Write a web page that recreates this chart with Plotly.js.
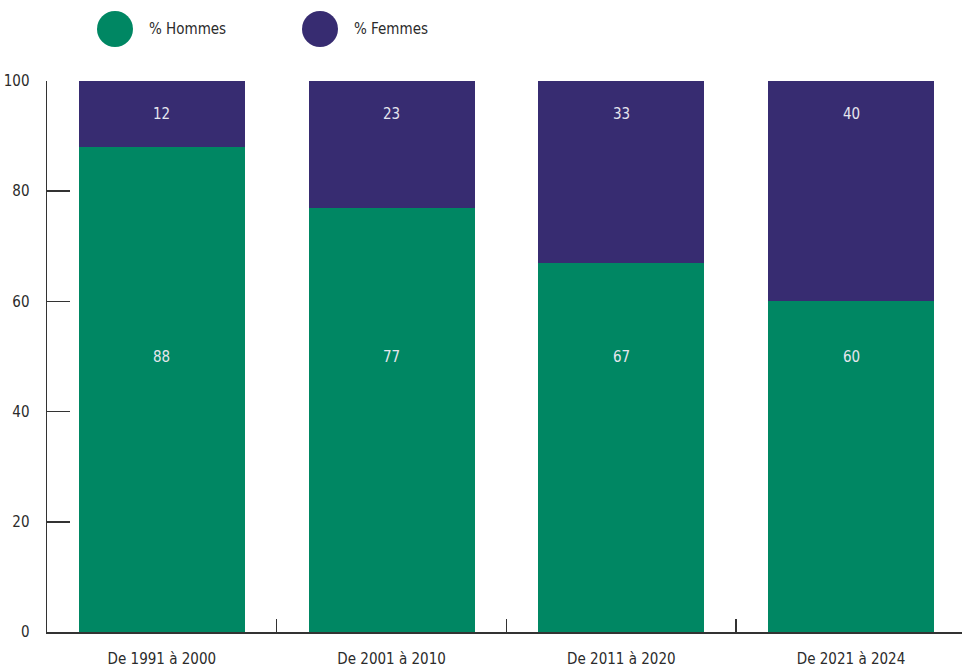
<!DOCTYPE html>
<html>
<head>
<meta charset="utf-8">
<script src="https://cdn.plot.ly/plotly-3.0.1.min.js"></script>
<style>html,body{margin:0;padding:0;background:#fff;}</style>
</head>
<body>
<div id="chart" style="width:962px;height:670px;"></div>
<script>
const categories = ["De 1991 à 2000", "De 2001 à 2010", "De 2011 à 2020", "De 2021 à 2024"];
const hommes = [88, 77, 67, 60];
const femmes = [12, 23, 33, 40];
const seriesNames = ["% Hommes", "% Femmes"];
const colors = ["#008763", "#372C71"];
const yTicks = [0, 20, 40, 60, 80, 100];
const labelY = [50, 94]; // vertical position of value labels (data units)

const FONT = "'Liberation Sans Narrow', 'DejaVu Sans Condensed', 'Arial Narrow', sans-serif";
const W = 962, H = 670, mL = 47, mR = 0, mT = 81, mB = 38;
const pw = W - mL - mR, ph = H - mT - mB;
const px2x = p => (p - mL) / pw;
const px2y = p => (H - mB - p) / ph;

const traces = [
  {type: "bar", x: categories, y: hommes, name: seriesNames[0], marker: {color: colors[0]}, hoverinfo: "none"},
  {type: "bar", x: categories, y: femmes, name: seriesNames[1], marker: {color: colors[1]}, hoverinfo: "none"}
];

const annotations = [];
categories.forEach((c, i) => {
  annotations.push({x: c, y: labelY[0], xref: "x", yref: "y", text: String(hommes[i]), showarrow: false,
    font: {family: FONT, size: 15, color: "#e6e6ee"}});
  annotations.push({x: c, y: labelY[1], xref: "x", yref: "y", text: String(femmes[i]), showarrow: false,
    font: {family: FONT, size: 15, color: "#e6e6ee"}});
});

// legend
const legendPos = [[115, 147], [320, 352]];
const shapes = [];
seriesNames.forEach((n, i) => {
  shapes.push({type: "circle", xref: "paper", yref: "paper", xsizemode: "pixel", ysizemode: "pixel",
    xanchor: px2x(legendPos[i][0]), yanchor: px2y(29), x0: -18, x1: 18, y0: -18, y1: 18,
    fillcolor: colors[i], line: {width: 0}});
  annotations.push({xref: "paper", yref: "paper", x: px2x(legendPos[i][1]), y: px2y(29), xanchor: "left", yanchor: "middle",
    text: n, showarrow: false, font: {family: FONT, size: 15, color: "#2b2b2b"}});
});

const layout = {
  width: W, height: H,
  margin: {l: mL, r: mR, t: mT, b: mB, pad: 0},
  barmode: "stack",
  bargap: 0.278,
  showlegend: false,
  paper_bgcolor: "#fff", plot_bgcolor: "#fff",
  font: {family: FONT, size: 15, color: "#2b2b2b"},
  xaxis: {
    type: "category", range: [-0.5, 3.483],
    showline: true, linecolor: "#333", linewidth: 1.5,
    ticks: "inside", tickson: "boundaries", ticklen: 13, tickcolor: "#333", tickwidth: 1.5,
    showgrid: false, zeroline: false, fixedrange: true,
    tickfont: {family: FONT, size: 15, color: "#2b2b2b"}, ticklabelstandoff: 12
  },
  yaxis: {
    range: [0, 100], tickvals: yTicks, ticktext: yTicks.map(String),
    showline: true, linecolor: "#333", linewidth: 1.5,
    ticks: "inside", ticklen: 23, tickcolor: "#333", tickwidth: 1.5,
    showgrid: false, zeroline: false, fixedrange: true,
    tickfont: {family: FONT, size: 15, color: "#2b2b2b"}, ticklabelstandoff: 13
  },
  shapes: shapes,
  annotations: annotations
};

Plotly.newPlot("chart", traces, layout, {displayModeBar: false, staticPlot: true});
</script>
</body>
</html>
